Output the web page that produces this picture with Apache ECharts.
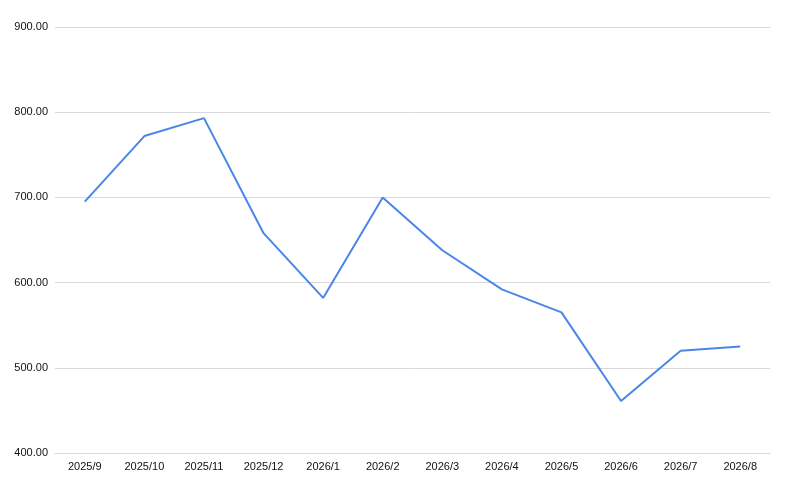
<!DOCTYPE html>
<html>
<head>
<meta charset="utf-8">
<script src="https://cdn.jsdelivr.net/npm/echarts@6/dist/echarts.min.js"></script>
<style>
html,body{margin:0;padding:0;background:#fff;}
#chart{width:787px;height:486px;}
</style>
</head>
<body>
<div id="chart"></div>
<script>
const categories = ['2025/9','2025/10','2025/11','2025/12','2026/1','2026/2','2026/3','2026/4','2026/5','2026/6','2026/7','2026/8'];
const values = [695, 772, 793, 658, 582, 700, 638, 592, 565, 461, 520, 525];
const yMin = 400, yMax = 900, yStep = 100;

const chart = echarts.init(document.getElementById('chart'), null, {renderer:'canvas'});
chart.setOption({
  animation: false,
  backgroundColor: '#ffffff',
  grid: {left: 55, right: 17, top: 27, bottom: 33, containLabel: false},
  xAxis: {
    type: 'category',
    data: categories,
    boundaryGap: true,
    axisLine: {show: true, lineStyle: {color: '#d9d9d9', width: 1}},
    axisTick: {show: false},
    axisLabel: {color: '#111', fontSize: 11, fontFamily: 'Liberation Sans, Arial, sans-serif', margin: 8}
  },
  yAxis: {
    type: 'value',
    min: yMin, max: yMax, interval: yStep,
    axisLine: {show: false},
    axisTick: {show: false},
    splitLine: {lineStyle: {color: '#d9d9d9', width: 1}},
    axisLabel: {color: '#111', fontSize: 11, fontFamily: 'Liberation Sans, Arial, sans-serif', margin: 7,
      formatter: v => v.toFixed(2)}
  },
  series: [{
    type: 'line',
    data: values,
    symbol: 'none',
    lineStyle: {color: '#4a86e8', width: 2},
    itemStyle: {color: '#4a86e8'}
  }]
});
</script>
</body>
</html>
